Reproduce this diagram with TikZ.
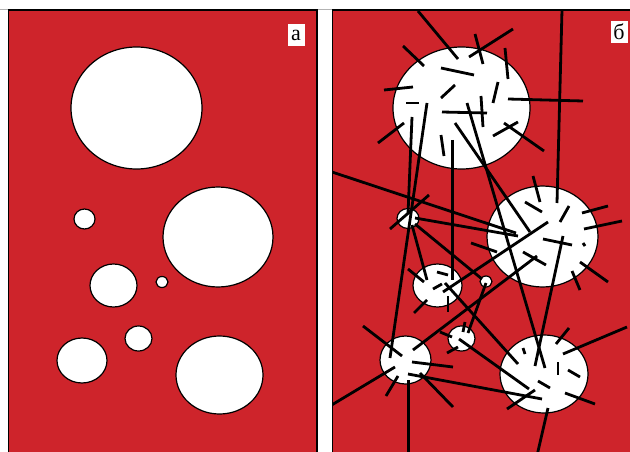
\documentclass[tikz,border=0pt]{standalone}
\usepackage{fontspec}
\setmainfont{Liberation Serif}
\definecolor{panelred}{RGB}{206,36,43}
\tikzset{
  panelfill/.style={fill=panelred},
  panelline/.style={draw=black,line width=1.2pt},
  pore/.style={fill=white,draw=black,line width=1.2pt},
  crack/.style={draw=black,line width=2.8pt},
  tag/.style={fill=white,inner sep=0pt,minimum width=17pt,minimum height=22pt,font=\fontsize{22}{22}\selectfont}
}
\begin{document}
\begin{tikzpicture}[x=1pt,y=-1pt]
\useasboundingbox (0,0) rectangle (630,452);
\draw[gray!60,line width=0.6pt] (0,9.3) -- (630,9.3);
% left panel
\fill[panelfill] (8.5,10) rectangle (317,470);
\draw[panelline] (8.5,470) -- (8.5,10) -- (317,10) -- (317,470);
\foreach \cx/\cy/\rx/\ry in {136.5/108/65.5/61, 84.5/219/10.5/10, 218/237/55/50, 113.5/285.5/23.5/21.5, 162/282/6/5.5, 138.5/338.5/13.5/12.5, 82/360.5/25/22.5, 219.5/375/43.5/39}
  \draw[pore] (\cx,\cy) ellipse [x radius=\rx pt, y radius=\ry pt];
\node[tag] (la) at (296,35.5) {а};
% right panel
\fill[panelfill] (332.5,10) rectangle (640,470);
\draw[panelline] (332.5,470) -- (332.5,10) -- (640,10);
\foreach \cx/\cy/\rx/\ry in {461.5/108/68.5/61, 542.5/236.5/55.5/50.5, 408/218.5/11/10, 437.5/285.5/24.5/21.5, 486/281.5/6/5.5, 461.5/338.5/13.5/12.5, 405.5/360/25.5/24, 544/374/44/39}
  \draw[pore] (\cx,\cy) ellipse [x radius=\rx pt, y radius=\ry pt];
\begin{scope}
\clip (333.1,10.6) rectangle (640,470);
\foreach \ax/\ay/\bx/\by in {
 418/11/458/59, 403/46/424/66, 441/68/474/75, 475/34/483/64, 469/57/513/29,
 505/48/508/79, 384/90/413/87, 441/98/455/85, 498/82/493/103, 508/99/583/101,
 406/103/419/103, 442/112/487/113, 481/96/483/127, 493/136/518/122, 504/123/544/151,
 378/143/404/123, 441/135/444/156, 562/10/557/203, 412/117/408/214, 427/103/390/358,
 452.5/140/452.5/280, 455/123/530/232, 467/103/545/368,
 332/172/516/233, 415/218/518/236, 412/225/427/280, 415/224/482/279, 429/195/390/229,
 548/222/443/292, 413/350/537/256, 471/243/497/252, 533/176/540/202, 525/202/542/212,
 569/206/560/222, 582/213/608/206, 584/229/622/221, 543/239/572/245, 583/243/585/246,
 523/252/546/265, 580/262/608/282, 572/271/580/290, 563/236/535/366,
 408/269/424/282, 414/313/427/300, 448/296/448/312, 437/272/448/275, 433/289/442/284,
 445/283/518/364,
 486/283/468/333, 440/332/452/337, 447/353/458/347, 465/322/463/332, 459/339/529/389,
 363/326/402/356, 412/362/453/367, 395/367/330/406, 398/376/386/396, 408.5/380/408.5/460,
 420/373/453/407, 408/374/542/399,
 507/409/535/390, 538/381/550/388, 523/348/525/354, 558/362/558/375, 568/370/580/377,
 556/344/569/328, 563/354/627/327, 565/393/595/404, 548/408/536/460}
  \draw[crack] (\ax,\ay) -- (\bx,\by);
\end{scope}
\node[tag] (lb) at (619,32) {б};
\end{tikzpicture}
\end{document}
